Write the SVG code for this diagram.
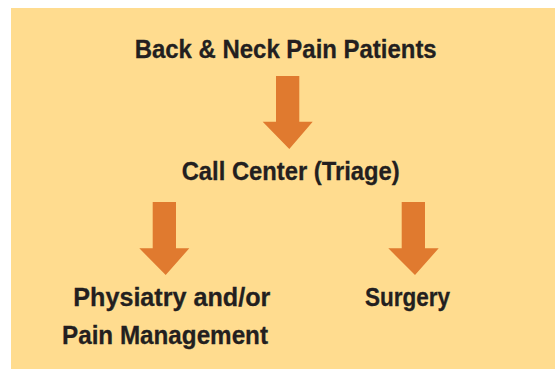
<svg xmlns="http://www.w3.org/2000/svg" width="555" height="369" viewBox="0 0 555 369">
  <style>
    .lbl { font-family: "Liberation Sans", Arial, sans-serif; font-weight: bold; font-size: 26px; fill: #231f20; stroke: #231f20; stroke-width: 0.3px; }
    .arr { fill: #e07a2f; }
  </style>
  <rect x="0" y="0" width="555" height="369" fill="#ffffff"/>
  <rect x="11" y="8" width="544" height="361" fill="#ffdc8f"/>
  <g id="connectors">
    <polygon class="arr" points="276,76 299.3,76 299.3,121.7 312.7,121.7 289.3,149 262.7,121.7 276,121.7"/>
    <polygon class="arr" points="152.7,202 176,202 176,248.3 189.3,248.3 165.7,275 139.3,248.3 152.7,248.3"/>
    <polygon class="arr" points="401.7,202 425,202 425,248.3 438.7,248.3 415,275 388.3,248.3 401.7,248.3"/>
  </g>
  <g id="node-patients">
    <text class="lbl" x="134.7" y="57.7" textLength="302" lengthAdjust="spacingAndGlyphs">Back &amp; Neck Pain Patients</text>
  </g>
  <g id="node-callcenter">
    <text class="lbl" x="181.7" y="180" textLength="218" lengthAdjust="spacingAndGlyphs">Call Center (Triage)</text>
  </g>
  <g id="node-physiatry">
    <text class="lbl" x="73.3" y="306" textLength="197" lengthAdjust="spacingAndGlyphs">Physiatry and/or</text>
    <text class="lbl" x="62" y="343.5" textLength="206" lengthAdjust="spacingAndGlyphs">Pain Management</text>
  </g>
  <g id="node-surgery">
    <text class="lbl" x="365" y="306" textLength="85" lengthAdjust="spacingAndGlyphs">Surgery</text>
  </g>
</svg>
